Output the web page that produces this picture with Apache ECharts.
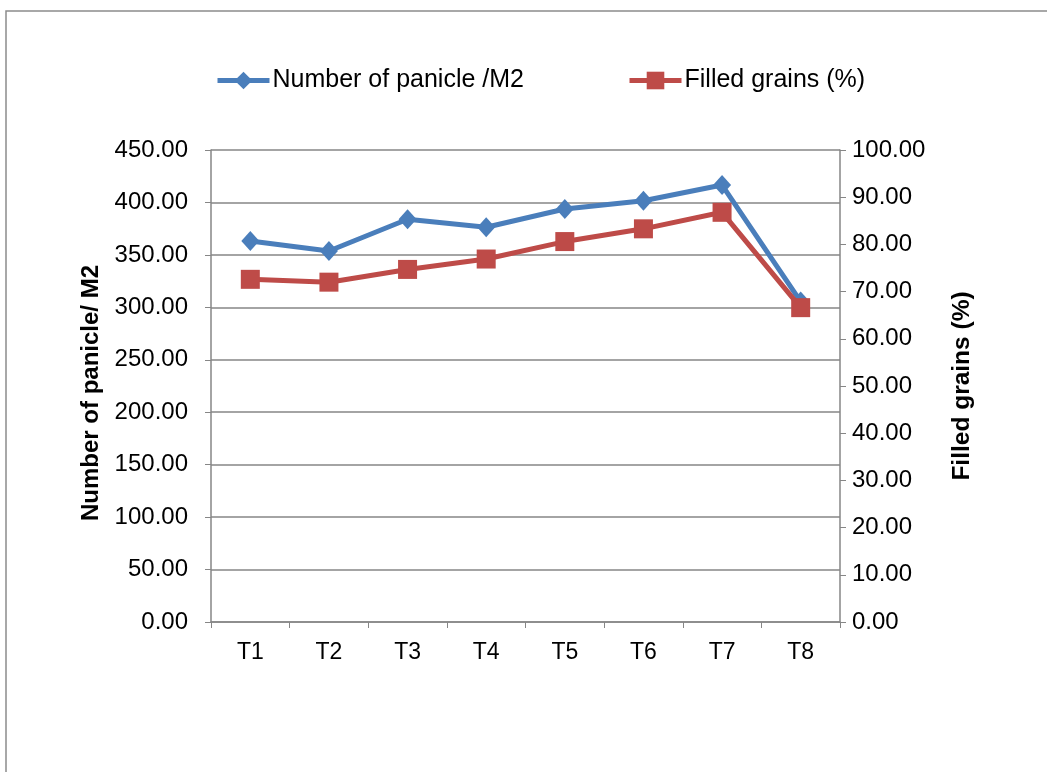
<!DOCTYPE html>
<html>
<head>
<meta charset="utf-8">
<script src="https://cdn.jsdelivr.net/npm/echarts@6/dist/echarts.min.js"></script>
<style>
html,body{margin:0;padding:0;background:#fff;}
#chart{width:1047px;height:772px;}
</style>
</head>
<body>
<div id="chart"></div>
<script>
const categories = ['T1','T2','T3','T4','T5','T6','T7','T8'];
const paniclePerM2 = [363.2, 353.7, 384.0, 376.4, 393.8, 401.6, 416.6, 305.5];
const filledGrains = [72.6, 72.0, 74.7, 76.9, 80.6, 83.3, 86.8, 66.6];
const seriesNames = ['Number of panicle /M2', 'Filled grains (%)'];
const leftAxisName = 'Number of panicle/ M2';
const rightAxisName = 'Filled grains (%)';

const FONT = 'Liberation Sans, Arial, sans-serif';
const GRAY = '#868686';
const chart = echarts.init(document.getElementById('chart'), null, {renderer:'canvas'});
chart.setOption({
  animation:false,
  backgroundColor:'#fff',
  graphic:[{type:'rect', shape:{x:6, y:11, width:1100, height:800}, style:{fill:'none', stroke:'#8c8c8c', lineWidth:1.5}, silent:true}],
  legend:{
    left:210, top:63, itemWidth:52, itemHeight:22, itemGap:103,
    lineStyle:{width:5},
    textStyle:{fontFamily:FONT, fontSize:25, color:'#000', padding:[0,0,0,-2]},
    data:seriesNames
  },
  grid:{left:211, right:207, top:150, bottom:150, containLabel:false},
  xAxis:{
    type:'category', data:categories, boundaryGap:true,
    axisLine:{lineStyle:{color:GRAY, width:1.5}},
    axisTick:{show:true, length:6, lineStyle:{color:GRAY}},
    axisLabel:{fontFamily:FONT, fontSize:23, color:'#000', margin:19},
    splitLine:{show:false}
  },
  yAxis:[{
    type:'value', min:0, max:450, interval:50, position:'left',
    name:leftAxisName, nameLocation:'middle', nameGap:104,
    nameTextStyle:{fontFamily:FONT, fontSize:24, fontWeight:'bold', color:'#000', padding:[0,14,0,0]},
    axisLine:{show:true, lineStyle:{color:GRAY, width:1.5}},
    axisTick:{show:true, length:6, lineStyle:{color:GRAY}},
    axisLabel:{fontFamily:FONT, fontSize:24, color:'#000', margin:23, formatter:v=>v.toFixed(2)},
    splitLine:{show:true, lineStyle:{color:GRAY, width:1.5}}
  },{
    type:'value', min:0, max:100, interval:10, position:'right',
    name:rightAxisName, nameLocation:'middle', nameGap:110,
    nameTextStyle:{fontFamily:FONT, fontSize:24.5, fontWeight:'bold', color:'#000'},
    axisLine:{show:true, lineStyle:{color:GRAY, width:1.5}},
    axisTick:{show:true, length:6, lineStyle:{color:GRAY}},
    axisLabel:{fontFamily:FONT, fontSize:24, color:'#000', margin:12, formatter:v=>v.toFixed(2)},
    splitLine:{show:false}
  }],
  series:[{
    name:seriesNames[0], type:'line', yAxisIndex:0, data:paniclePerM2,
    symbol:'diamond', symbolSize:[18,20],
    lineStyle:{color:'#4A7EBB', width:5},
    itemStyle:{color:'#4A7EBB'}, z:2
  },{
    name:seriesNames[1], type:'line', yAxisIndex:1, data:filledGrains,
    symbol:'rect', symbolSize:19,
    lineStyle:{color:'#BE4B48', width:5},
    itemStyle:{color:'#BE4B48'}, z:3
  }]
});
</script>
</body>
</html>
